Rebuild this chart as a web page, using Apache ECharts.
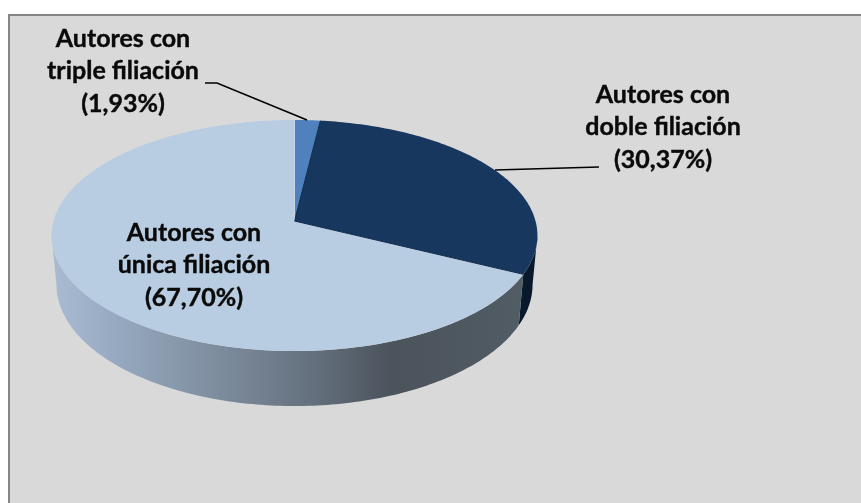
<!DOCTYPE html>
<html>
<head>
<meta charset="utf-8">
<style>html,body{margin:0;padding:0;background:#fff}#chart{width:861px;height:503px}</style>
<script src="https://cdn.jsdelivr.net/npm/echarts@6/dist/echarts.min.js"></script>
</head>
<body>
<div id="chart"></div>
<script>
// Distribución de autores según número de filiaciones
const categories = ['Autores con\ntriple filiación', 'Autores con\ndoble filiación', 'Autores con\núnica filiación'];
const shares = [1.93, 30.37, 67.70];
const topColors = ['#4f81bd', '#17375e', '#b9cde2'];

// Tilted-disc projection: unit circle (u right, v away from viewer) to screen pixels
const disc = { x: 294.5, y: 221, a: 241, b: 113.7, persp: 0.1256 };
const wallShrink = 0.98;

function rimPoint(turn) {
  const t = turn * 2 * Math.PI;
  const u = Math.sin(t), v = Math.cos(t);
  const s = 1 / (1 + disc.persp * v);
  return [disc.x + disc.a * u * s, disc.y - disc.b * v * s];
}
// Same rim seen at the bottom face of the disc
function lowerPoint(turn) {
  const p = rimPoint(turn);
  return [
    disc.x + (p[0] - disc.x) * wallShrink,
    p[1] + 51 + (p[1] - 274) * 0.052
  ];
}
function arc(start, end, fn) {
  const pts = [];
  const n = Math.max(2, Math.ceil((end - start) * 360));
  for (let i = 0; i <= n; i++) pts.push(fn(start + (end - start) * i / n));
  return pts;
}
function span(i) {
  const total = shares.reduce((a, b) => a + b, 0);
  let before = 0;
  for (let k = 0; k < i; k++) before += shares[k];
  return [before / total, (before + shares[i]) / total];
}

// Part of the rim facing the viewer: between the rightmost and leftmost rim points
const frontArc = (function () {
  let right = 0, left = 0;
  for (let i = 0; i < 1440; i++) {
    const t = i / 1440;
    if (rimPoint(t)[0] > rimPoint(right)[0]) right = t;
    if (rimPoint(t)[0] < rimPoint(left)[0]) left = t;
  }
  return [right, left];
})();

const wallFills = [
  '#2d4d73',
  '#07192b',
  {
    type: 'linear', x: 51, y: 0, x2: 537, y2: 0, global: true,
    colorStops: [
      { offset: 0, color: '#a9bcd2' },
      { offset: 0.12, color: '#98abc2' },
      { offset: 0.35, color: '#7d8c9d' },
      { offset: 0.55, color: '#626e7b' },
      { offset: 0.7, color: '#4b535b' },
      { offset: 1, color: '#525d65' }
    ]
  }
];
// Thin highlight or shadow along the opening radius of each slice
const edgeColors = ['#d5dde8', '#10294a', '#10294a'];

function renderWall(params) {
  const [a0, b0] = span(params.dataIndex);
  const a = Math.max(a0, frontArc[0]);
  const b = Math.min(b0, frontArc[1]);
  if (b <= a) return null;
  const upper = arc(a, b, rimPoint);
  const lower = arc(a, b, lowerPoint).reverse();
  return {
    type: 'polygon',
    shape: { points: upper.concat(lower) },
    style: { fill: wallFills[params.dataIndex] }
  };
}

function renderTop(params) {
  const [a, b] = span(params.dataIndex);
  const pts = [[disc.x, disc.y]].concat(arc(a, b, rimPoint));
  const rim = rimPoint(a);
  return {
    type: 'group',
    children: [
      { type: 'polygon', shape: { points: pts }, style: { fill: topColors[params.dataIndex] } },
      {
        type: 'line',
        shape: { x1: disc.x, y1: disc.y, x2: rim[0], y2: rim[1] },
        style: { stroke: edgeColors[params.dataIndex], lineWidth: 1 }
      }
    ]
  };
}

// Text blocks and their leader lines
const labelCenters = [[123, 71], [663, 127], [194, 265]];
const leaders = [
  [[205, 83], [217, 83], [307, 120]],
  [[599, 167], [495, 170]],
  null
];

function renderLabel(params, api) {
  const i = params.dataIndex;
  const pct = '(' + api.value(0).toFixed(2).replace('.', ',') + '%)';
  const children = [{
    type: 'text',
    style: {
      text: categories[i] + '\n' + pct,
      x: labelCenters[i][0],
      y: labelCenters[i][1],
      align: 'center',
      verticalAlign: 'middle',
      font: 'bold 25px Lato',
      lineHeight: 32.5,
      fill: '#0a0a0a',
      stroke: '#0a0a0a',
      lineWidth: 0.4
    }
  }];
  if (leaders[i]) {
    children.push({
      type: 'polyline',
      shape: { points: leaders[i] },
      style: { stroke: '#000', lineWidth: 1.6, fill: 'none' }
    });
  }
  return { type: 'group', children };
}

const chart = echarts.init(document.getElementById('chart'), null, { renderer: 'canvas' });
chart.setOption({
  animation: false,
  backgroundColor: '#ffffff',
  graphic: [
    { type: 'rect', z: 0, shape: { x: 9, y: 15, width: 852, height: 488 }, style: { fill: '#d9d9d9' } },
    { type: 'polyline', z: 0, shape: { points: [[9, 503], [9, 15], [861, 15]] }, style: { stroke: '#868686', lineWidth: 2, fill: 'none' } }
  ],
  series: [
    { type: 'custom', coordinateSystem: 'none', z: 1, silent: true, data: shares, renderItem: renderWall },
    { type: 'custom', coordinateSystem: 'none', z: 2, silent: true, data: shares, renderItem: renderTop },
    { type: 'custom', coordinateSystem: 'none', z: 3, silent: true, data: shares, renderItem: renderLabel }
  ]
});
</script>
</body>
</html>
